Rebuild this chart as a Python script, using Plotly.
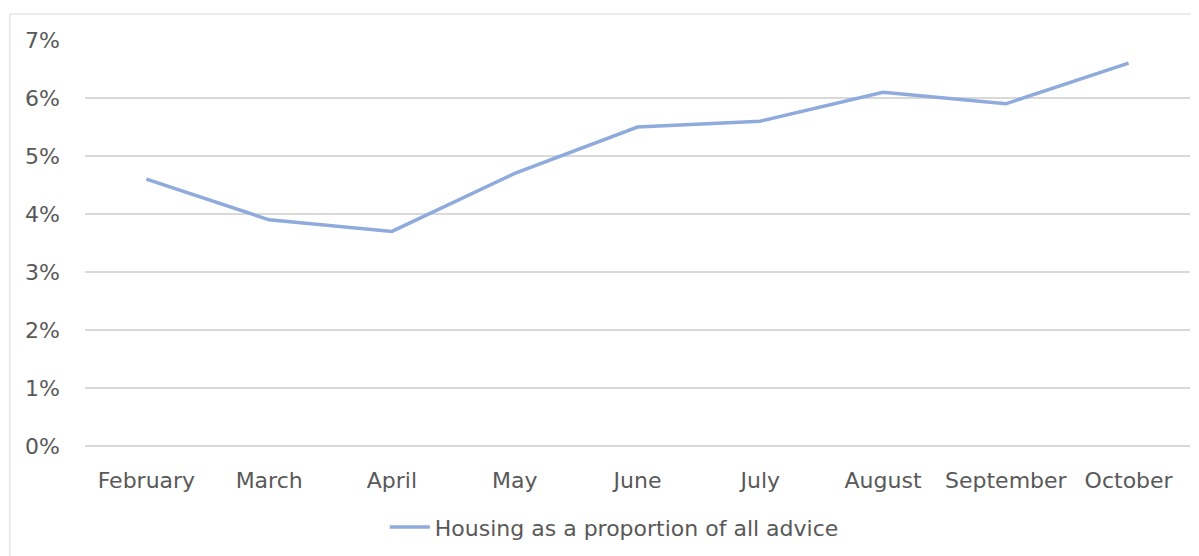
import plotly.graph_objects as go

months = ["February", "March", "April", "May", "June", "July", "August", "September", "October"]
housing_share = [0.046, 0.039, 0.037, 0.047, 0.055, 0.056, 0.061, 0.059, 0.066]
y_ticks = [0, 0.01, 0.02, 0.03, 0.04, 0.05, 0.06, 0.07]

font_gray = "#595959"
grid_gray = "#D9D9D9"

fig = go.Figure()

fig.add_trace(
    go.Scatter(
        x=months,
        y=housing_share,
        mode="lines",
        name="Housing as a proportion of all advice",
        line=dict(color="#8FAADC", width=3.5),
    )
)

fig.update_xaxes(
    type="category",
    range=[-0.5, len(months) - 0.5],
    showgrid=False,
    showline=False,
    ticks="",
    ticklabelstandoff=19,
    automargin=False,
    tickfont=dict(size=22, color=font_gray),
)

fig.update_yaxes(
    range=[0, 0.07],
    tickvals=y_ticks,
    tickformat=".0%",
    showgrid=True,
    gridcolor=grid_gray,
    gridwidth=1.5,
    zeroline=True,
    zerolinecolor=grid_gray,
    zerolinewidth=1.5,
    showline=False,
    ticks="",
    ticklabelstandoff=24,
    automargin=False,
    tickfont=dict(size=22, color=font_gray),
)

# light frame around the chart area
fig.add_shape(
    type="rect",
    xref="paper", yref="paper",
    x0=-0.068, x1=1.03, y0=-0.5, y1=1.064,
    line=dict(color=grid_gray, width=1),
    fillcolor="rgba(0,0,0,0)",
    layer="below",
)

fig.update_layout(
    width=1199,
    height=556,
    margin=dict(l=77, r=17, t=32, b=118, autoexpand=False),
    paper_bgcolor="white",
    plot_bgcolor="white",
    font=dict(family="DejaVu Sans", size=22, color=font_gray),
    showlegend=True,
    legend=dict(
        orientation="h",
        x=0.479,
        xanchor="center",
        y=-0.2,
        yanchor="middle",
        font=dict(size=22, color=font_gray),
        itemwidth=40,
    ),
)

fig.write_html("out.html")
